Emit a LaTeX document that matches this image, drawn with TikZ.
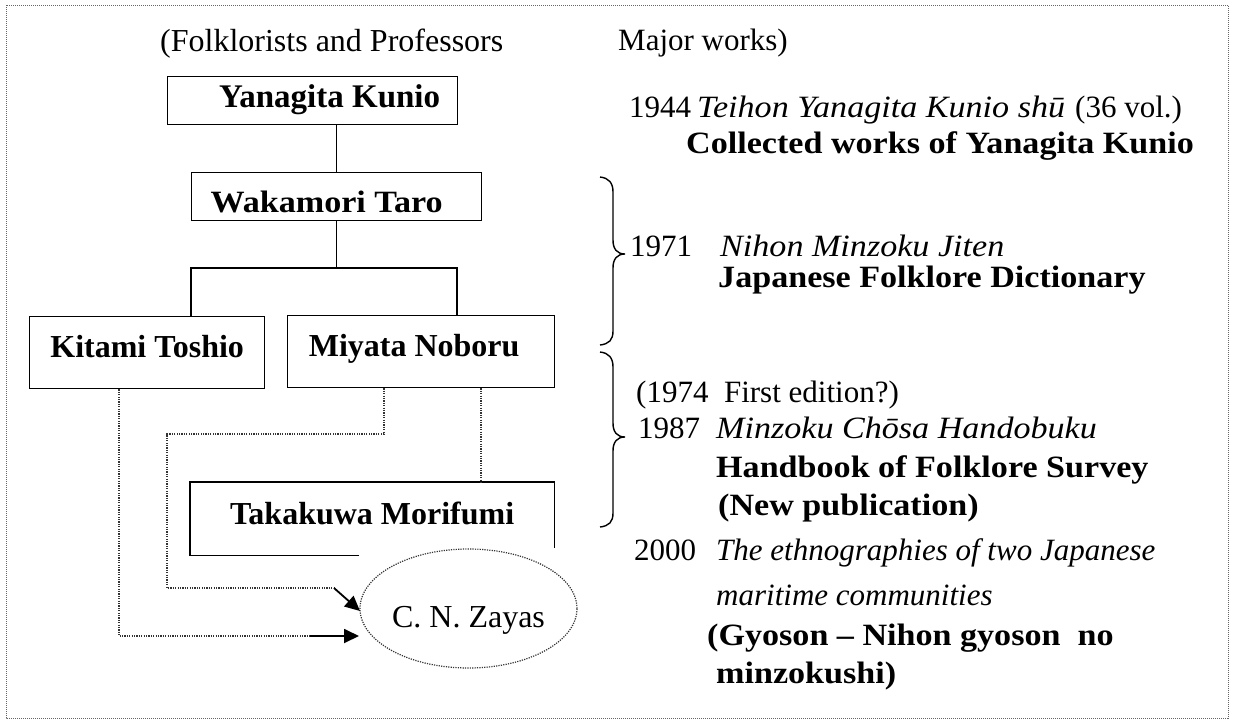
\documentclass[tikz,border=0pt]{standalone}
\usepackage{fontspec}
\setmainfont{Liberation Serif}
\newfontfamily\widefont[FakeStretch=1.1]{Liberation Serif}
\usetikzlibrary{arrows.meta,shapes.geometric}
\begin{document}
\begin{tikzpicture}[x=1pt,y=-1pt,
  box/.style={draw, line width=1.3pt, inner sep=0pt, anchor=north west,
    font=\bfseries\fontsize{32}{38}\selectfont},
  txt/.style={anchor=base west, inner sep=0pt, font=\fontsize{31}{37}\selectfont},
  bw/.style={font=\widefont\bfseries\fontsize{31}{37}\selectfont},
  iw/.style={font=\widefont\itshape\fontsize{31}{37}\selectfont},
  it/.style={font=\itshape\fontsize{31}{37}\selectfont},
  conn/.style={line width=1.3pt},
  dotline/.style={line width=1.2pt, dash pattern=on 1.2pt off 1.2pt, color=black!80},
  arr/.style={line width=1.8pt, -{Triangle[length=15pt,width=14pt]}},
  bracepath/.style={line width=1.4pt}]
\useasboundingbox (0,0) rectangle (1235,723);
\fill[white] (0,0) rectangle (1235,723);
\draw[black!60, line width=1pt, dash pattern=on 1pt off 1pt] (6,5) rectangle (1228,718);

% headers
\node[txt, font=\fontsize{32}{38}\selectfont] (h1) at (160,51) {(Folklorists and Professors};
\node[txt] (h2) at (618,50) {Major works)};

% boxes
\node[box, minimum width=290pt, text height=31pt, text depth=17pt,
  font=\bfseries\fontsize{33}{39}\selectfont] (yan) at (167,76) {\hspace*{34pt}Yanagita Kunio};
\node[box, minimum width=290pt, text height=40pt, text depth=8pt,
  font=\widefont\bfseries\fontsize{31}{37}\selectfont] (wak) at (191,172) {Wakamori Taro\hspace*{20pt}};
\node[box, minimum width=235pt, text height=41pt, text depth=31pt] (kit) at (29,316) {Kitami Toshio};
\node[box, minimum width=267pt, text height=41pt, text depth=31pt] (miy) at (287,315) {Miyata Noboru\hspace*{14pt}};
\node[box, draw=none, minimum width=363pt, text height=42pt, text depth=30pt] (tak) at (190,482) {Takakuwa Morifumi};
\draw[conn] ([xshift=169pt]tak.south west) -- (tak.south west) -- (tak.north west) -- (tak.north east) -- ([yshift=-66pt]tak.north east);
\node[ellipse, draw, dotline, minimum width=217pt, minimum height=119pt, inner sep=0pt,
  text height=40pt, text depth=3pt, text=black, font=\fontsize{32}{38}\selectfont] (zay) at (468.5,608.5) {C. N. Zayas};

% solid tree connectors
\coordinate (jk) at (191,268);
\coordinate (jm) at (457,268);
\draw[conn] (yan.south -| wak.north) -- (wak.north);
\draw[conn] (wak.south) -- (wak.south |- jk);
\draw[conn] (kit.north -| jk) -- (jk) -- (jm) -- (miy.north -| jm);

% dotted connectors
\coordinate (k1) at (119,636);
\coordinate (ka) at (310,636);
\coordinate (kt) at (359,636);
\draw[dotline] (kit.south -| k1) -- (k1) -- (ka);
\draw[arr] (ka) -- (kt);

\coordinate (m1) at (384,434);
\coordinate (m2) at (167,434);
\coordinate (m3) at (167,588);
\coordinate (m4) at (334,588);
\coordinate (mt) at (360,611);
\draw[dotline] (miy.south -| m1) -- (m1) -- (m2) -- (m3) -- (m4);
\draw[arr] (m4) -- (mt);

\coordinate (m5) at (481,400);
\draw[dotline] (miy.south -| m5) -- (tak.north -| m5);

% braces
\draw[bracepath] (600,177) .. controls (609,178) and (613,183) .. (613,192) -- (613,240)
  .. controls (613,249) and (617,254) .. (625,254)
  .. controls (617,254) and (613,259) .. (613,268) -- (613,331)
  .. controls (613,340) and (609,344) .. (600,345);
\draw[bracepath] (600,352) .. controls (609,353) and (613,358) .. (613,367) -- (613,423)
  .. controls (613,432) and (617,437) .. (625,437)
  .. controls (617,437) and (613,442) .. (613,451) -- (613,513)
  .. controls (613,522) and (609,526) .. (600,527);

% works
\node[txt] (y44) at (629,117) {1944};
\node[txt,iw] (t44) at (697,117) {Teihon Yanagita Kunio shū};
\node[txt] (v44) at (1075,117) {(36 vol.)};
\node[txt,bw] (c44) at (686,153) {Collected works of Yanagita Kunio};

\node[txt] (y71) at (630,256) {1971};
\node[txt,iw] (t71) at (720,256) {Nihon Minzoku Jiten};
\node[txt,bw] (e71) at (718,287) {Japanese Folklore Dictionary};

\node[txt] (y74) at (636,402) {(1974\ \ First edition?)};
\node[txt] (y87) at (638,438) {1987};
\node[txt,iw] (t87) at (716,438) {Minzoku Chōsa Handobuku};
\node[txt,bw] (e87) at (716,477) {Handbook of Folklore Survey};
\node[txt,bw] (n87) at (718,515) {(New publication)};

\node[txt] (y00) at (634,560) {2000};
\node[txt,it] (t00) at (716,560) {The ethnographies of two Japanese};
\node[txt,it] (t00b) at (716,605) {maritime communities};
\node[txt,bw] (g00) at (707,645) {(Gyoson – Nihon gyoson\ \ no};
\node[txt,bw] (m00) at (716,683) {minzokushi)};
\end{tikzpicture}
\end{document}
